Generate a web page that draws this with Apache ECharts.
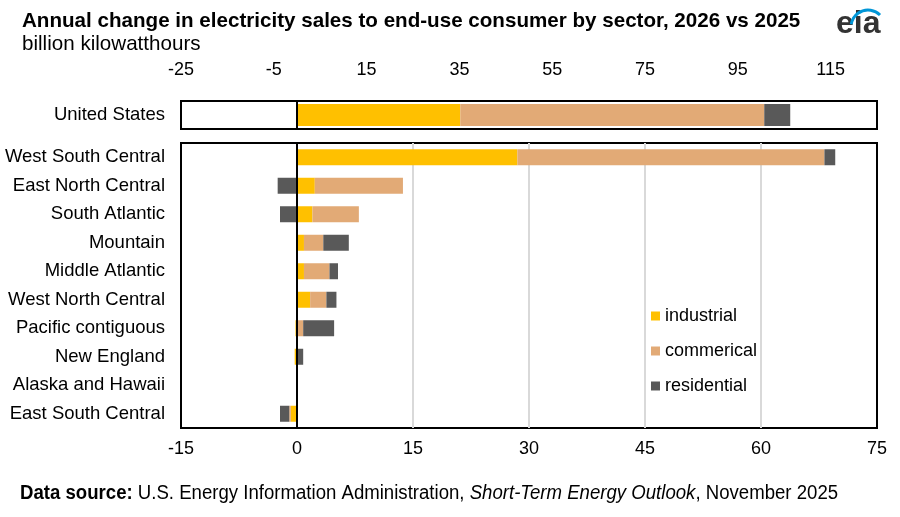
<!DOCTYPE html>
<html>
<head>
<meta charset="utf-8">
<script src="https://cdn.jsdelivr.net/npm/echarts@6/dist/echarts.min.js"></script>
<style>
html,body{margin:0;padding:0;background:#fff;}
#chart{width:900px;height:517px;}
</style>
</head>
<body>
<div id="chart"></div>
<script>
// ---- data ----
const usCategory = ['United States'];
const usIndustrial = [35.2];
const usCommercial = [65.5];
const usResidential = [5.6];

const regions = ['West South Central','East North Central','South Atlantic','Mountain','Middle Atlantic','West North Central','Pacific contiguous','New England','Alaska and Hawaii','East South Central'];
const regIndustrial  = [28.5, 2.3, 2.0, 0.9, 0.9, 1.7, -0.2, -0.3, 0.0, -0.8];
const regCommercial  = [39.7, 11.4, 6.0, 2.5, 3.3, 2.1, 0.8, 0.0, 0.0, -0.2];
const regResidential = [1.4, -2.5, -2.2, 3.3, 1.1, 1.3, 4.0, 0.8, 0.0, -1.2];

const seriesNames = ['industrial','commerical','residential'];
const colors = ['#FFC000','#E2AA76','#595959'];

const topTickLabels = [-25,-5,15,35,55,75,95,115];
const bottomTickLabels = [-15,0,15,30,45,60,75];

const chart = echarts.init(document.getElementById('chart'));
const FONT = 'Liberation Sans, Arial, sans-serif';

function zeroLine(){
  return {
    silent: true, symbol: 'none',
    label: {show: false},
    lineStyle: {color: '#000', width: 2, type: 'solid'},
    data: [{xAxis: 0}]
  };
}

const usData = [usIndustrial, usCommercial, usResidential];
const regData = [regIndustrial, regCommercial, regResidential];

const series = [];
seriesNames.forEach((n, i) => {
  series.push({
    name: n, type: 'bar', stack: 'us', xAxisIndex: 0, yAxisIndex: 0,
    data: usData[i], barWidth: 22, itemStyle: {color: colors[i]},
    markLine: i === 0 ? zeroLine() : undefined, z: 2
  });
});
seriesNames.forEach((n, i) => {
  series.push({
    name: n, type: 'bar', stack: 'reg', xAxisIndex: 1, yAxisIndex: 1,
    data: regData[i], barWidth: 16, itemStyle: {color: colors[i]},
    markLine: i === 0 ? zeroLine() : undefined, z: 2
  });
});

const splitColors = bottomTickLabels.map((v, i) => (i === 0 || i === bottomTickLabels.length - 1) ? '#000' : '#D9D9D9');

chart.setOption({
  animation: false,
  textStyle: {fontFamily: FONT},
  title: [
    {text: 'Annual change in electricity sales to end-use consumer by sector, 2026 vs 2025',
     left: 22, top: 11, padding: 0, textStyle: {fontSize: 20.6, fontWeight: 'bold', color: '#000', fontFamily: FONT}},
    {text: 'billion kilowatthours', left: 22, top: 34, padding: 0,
     textStyle: {fontSize: 20.6, fontWeight: 'normal', color: '#000', fontFamily: FONT}}
  ],
  legend: {
    orient: 'vertical', left: 646, top: 302, itemGap: 17,
    itemWidth: 9, itemHeight: 9, icon: 'rect',
    data: seriesNames,
    textStyle: {fontSize: 18, color: '#000', fontFamily: FONT}
  },
  grid: [
    {left: 181, width: 696, top: 101, height: 28, show: true, borderColor: '#000', borderWidth: 2, backgroundColor: 'transparent'},
    {left: 181, width: 696, top: 143, height: 285, show: true, borderColor: '#000', borderWidth: 2, backgroundColor: 'transparent'}
  ],
  xAxis: [
    {type: 'value', gridIndex: 0, position: 'top', min: -25, max: 125, interval: 5,
     axisLine: {show: false}, axisTick: {show: false}, splitLine: {show: false},
     axisLabel: {margin: 22, fontSize: 18, color: '#000',
       formatter: v => topTickLabels.indexOf(v) >= 0 ? String(v) : ''}},
    {type: 'value', gridIndex: 1, position: 'bottom', min: -15, max: 75, interval: 15,
     axisLine: {show: false}, axisTick: {show: false},
     splitLine: {show: true, lineStyle: {color: splitColors, width: 2}},
     axisLabel: {margin: 12, fontSize: 18, color: '#000',
       formatter: v => bottomTickLabels.indexOf(v) >= 0 ? String(v) : ''}}
  ],
  yAxis: [
    {type: 'category', gridIndex: 0, data: usCategory, inverse: true,
     axisLine: {show: false, onZero: false}, axisTick: {show: false},
     axisLabel: {margin: 16, fontSize: 18.5, color: '#000'}},
    {type: 'category', gridIndex: 1, data: regions, inverse: true,
     axisLine: {show: false, onZero: false}, axisTick: {show: false},
     axisLabel: {margin: 16, fontSize: 18.5, color: '#000'}}
  ],
  graphic: [
    {type: 'text', left: 20, top: 483, scaleX: 0.93,
     style: {text: '{b|Data source:} U.S. Energy Information Administration, {i|Short-Term Energy Outlook}, November 2025',
       rich: {b: {fontWeight: 'bold', fontSize: 20, fontFamily: FONT},
              i: {fontStyle: 'italic', fontSize: 20, fontFamily: FONT}},
       fontSize: 20, fontFamily: FONT, fill: '#000'}},
    {type: 'text', left: 836, top: 8,
     style: {text: 'eia', fontSize: 32, fontWeight: 'bold', fill: '#333', fontFamily: FONT}},
    {type: 'arc', shape: {cx: 868, cy: 27, r: 17, startAngle: Math.PI * 1.05, endAngle: Math.PI * 1.75},
     style: {stroke: '#0096D7', lineWidth: 3, fill: 'none'}}
  ],
  series: series
});
</script>
</body>
</html>
